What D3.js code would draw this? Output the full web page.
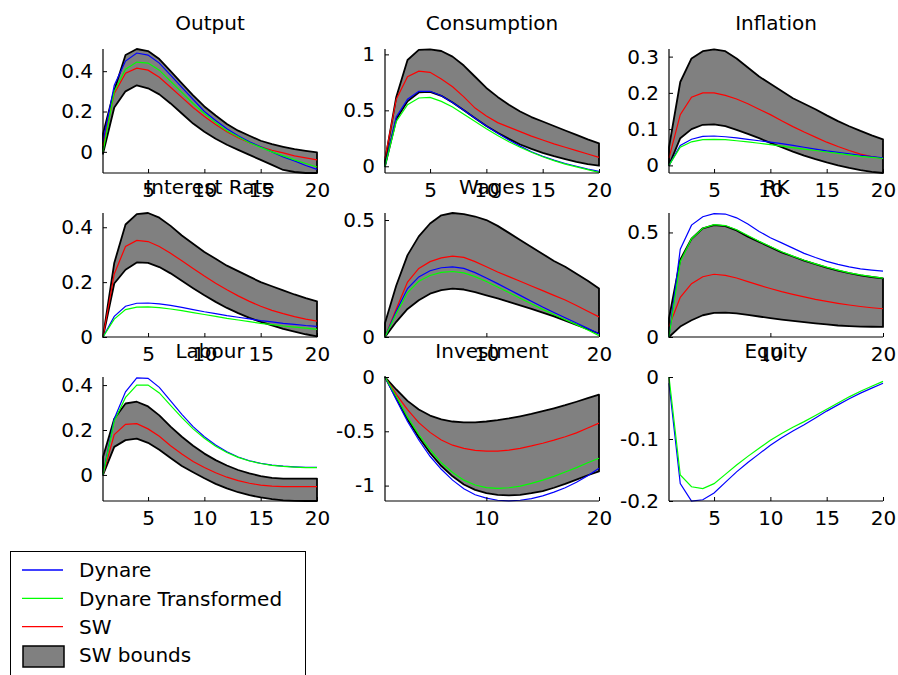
<!DOCTYPE html>
<html>
<head>
<meta charset="utf-8">
<script src="https://cdn.jsdelivr.net/npm/d3@7"></script>
<style>
  body { margin: 0; background: #fff; }
  svg { display: block; }
  text { font-family: "DejaVu Sans", sans-serif; font-size: 20px; fill: #000; }
</style>
</head>
<body>
<svg id="chart" width="898" height="675"></svg>
<script>
// Impulse-response horizon
const periods = d3.range(1, 21);

// Panel order: row by row
const titles = ["Output", "Consumption", "Inflation",
                "Interest Rate", "Wages", "RK",
                "Labour", "Investment", "Equity"];

const xTicks = [
  [5, 10, 15, 20], [5, 10, 15, 20], [5, 10, 15, 20],
  [5, 10, 15, 20], [10, 20], [10, 20],
  [5, 10, 15, 20], [10, 20], [5, 10, 15, 20]
];

const yLimits = [
  [-0.105, 0.51], [-0.06, 1.048], [-0.021, 0.321],
  [0, 0.452], [0, 0.53], [0, 0.593],
  [-0.116, 0.436], [-1.142, 0], [-0.2, 0]
];

const yTicks = [
  [0, 0.2, 0.4], [0, 0.5, 1], [0, 0.1, 0.2, 0.3],
  [0, 0.2, 0.4], [0, 0.5], [0, 0.5],
  [0, 0.2, 0.4], [-1, -0.5, 0], [-0.2, -0.1, 0]
];

// Dynare responses
const dynare = [
  [0.05, 0.33, 0.45, 0.49, 0.48, 0.44, 0.38, 0.32, 0.26, 0.2, 0.155, 0.115, 0.08, 0.05, 0.025, 0.0, -0.025, -0.045, -0.068, -0.087],
  [0.0, 0.44, 0.6, 0.67, 0.67, 0.63, 0.57, 0.5, 0.43, 0.36, 0.295, 0.235, 0.18, 0.13, 0.09, 0.055, 0.025, 0.0, -0.025, -0.045],
  [0.0, 0.055, 0.072, 0.08, 0.081, 0.079, 0.076, 0.072, 0.068, 0.064, 0.06, 0.055, 0.05, 0.045, 0.04, 0.036, 0.032, 0.028, 0.024, 0.021],
  [0.0, 0.075, 0.112, 0.123, 0.124, 0.121, 0.115, 0.108, 0.1, 0.092, 0.085, 0.078, 0.072, 0.066, 0.06, 0.055, 0.05, 0.046, 0.042, 0.039],
  [0.0, 0.11, 0.207, 0.257, 0.283, 0.296, 0.3, 0.293, 0.275, 0.252, 0.228, 0.203, 0.178, 0.153, 0.128, 0.105, 0.082, 0.06, 0.037, 0.014],
  [0.0, 0.42, 0.535, 0.575, 0.59, 0.588, 0.57, 0.54, 0.505, 0.475, 0.45, 0.425, 0.4, 0.38, 0.362, 0.347, 0.335, 0.326, 0.32, 0.315],
  [0.0, 0.25, 0.37, 0.432, 0.43, 0.39, 0.33, 0.27, 0.215, 0.17, 0.133, 0.103, 0.08, 0.063, 0.052, 0.044, 0.039, 0.036, 0.034, 0.034],
  [0.0, -0.21, -0.41, -0.58, -0.73, -0.85, -0.95, -1.03, -1.085, -1.115, -1.135, -1.14, -1.135, -1.12, -1.095, -1.06, -1.02, -0.97, -0.91, -0.84],
  [-0.01, -0.172, -0.2, -0.198, -0.187, -0.17, -0.153, -0.138, -0.124, -0.11, -0.098, -0.087, -0.077, -0.066, -0.055, -0.045, -0.035, -0.026, -0.018, -0.01]
];

// Dynare responses after transformation
const dynareTransformed = [
  [0.0, 0.3, 0.41, 0.445, 0.44, 0.405, 0.35, 0.295, 0.24, 0.19, 0.145, 0.105, 0.075, 0.045, 0.022, 0.0, -0.02, -0.04, -0.058, -0.075],
  [0.0, 0.4, 0.55, 0.61, 0.615, 0.58, 0.53, 0.465, 0.4, 0.335, 0.275, 0.22, 0.17, 0.125, 0.085, 0.05, 0.02, -0.005, -0.03, -0.055],
  [0.0, 0.05, 0.065, 0.071, 0.072, 0.071, 0.068, 0.065, 0.061, 0.057, 0.053, 0.049, 0.045, 0.041, 0.037, 0.033, 0.029, 0.025, 0.022, 0.019],
  [0.0, 0.065, 0.1, 0.109, 0.11, 0.107, 0.102, 0.096, 0.089, 0.082, 0.075, 0.068, 0.062, 0.056, 0.05, 0.045, 0.04, 0.036, 0.032, 0.028],
  [0.0, 0.1, 0.19, 0.238, 0.263, 0.276, 0.28, 0.274, 0.258, 0.237, 0.214, 0.19, 0.166, 0.142, 0.118, 0.096, 0.074, 0.053, 0.03, 0.006],
  [0.0, 0.36, 0.47, 0.52, 0.537, 0.533, 0.513, 0.485, 0.458, 0.433, 0.408, 0.387, 0.367, 0.35, 0.334, 0.32, 0.307, 0.297, 0.289, 0.282],
  [0.0, 0.24, 0.345, 0.4, 0.4, 0.365, 0.31, 0.255, 0.205, 0.163, 0.128, 0.1, 0.078, 0.062, 0.051, 0.043, 0.038, 0.035, 0.033, 0.033],
  [0.0, -0.18, -0.37, -0.53, -0.67, -0.79, -0.88, -0.95, -0.995, -1.018, -1.025, -1.02, -1.005, -0.98, -0.95, -0.915, -0.875, -0.835, -0.79, -0.748],
  [0.0, -0.158, -0.177, -0.18, -0.172, -0.157, -0.142, -0.128, -0.115, -0.102, -0.091, -0.081, -0.072, -0.062, -0.052, -0.042, -0.032, -0.023, -0.015, -0.007]
];

// SW median responses (none for Equity)
const sw = [
  [0.03, 0.29, 0.39, 0.415, 0.405, 0.37, 0.32, 0.27, 0.22, 0.175, 0.135, 0.1, 0.07, 0.045, 0.025, 0.008, -0.005, -0.02, -0.03, -0.04],
  [0.07, 0.6, 0.8, 0.85, 0.84, 0.78, 0.71, 0.62, 0.52, 0.45, 0.39, 0.35, 0.31, 0.27, 0.235, 0.2, 0.17, 0.14, 0.11, 0.08],
  [0.02, 0.14, 0.188, 0.2, 0.2, 0.193, 0.183, 0.17, 0.155, 0.14, 0.123, 0.107, 0.092, 0.078, 0.064, 0.052, 0.041, 0.031, 0.024, 0.019],
  [0.0, 0.23, 0.33, 0.352, 0.348, 0.33, 0.305, 0.278, 0.25, 0.222, 0.196, 0.172, 0.15, 0.13, 0.112, 0.097, 0.085, 0.074, 0.065, 0.058],
  [0.0, 0.12, 0.235, 0.293, 0.322, 0.338, 0.346, 0.34, 0.322, 0.3, 0.278, 0.258, 0.238, 0.218, 0.198, 0.178, 0.158, 0.135, 0.11, 0.086],
  [0.05, 0.19, 0.255, 0.288, 0.3, 0.295, 0.282, 0.265, 0.248, 0.232, 0.217, 0.204, 0.192, 0.18, 0.17, 0.161, 0.153, 0.146, 0.14, 0.135],
  [0.0, 0.18, 0.225, 0.228, 0.205, 0.172, 0.13, 0.093, 0.06, 0.033, 0.01, -0.01, -0.025, -0.037, -0.045, -0.05, -0.052, -0.052, -0.052, -0.052],
  [0.0, -0.16, -0.3, -0.42, -0.51, -0.58, -0.628, -0.658, -0.675, -0.682, -0.682, -0.673, -0.657, -0.635, -0.61, -0.582, -0.55, -0.515, -0.47, -0.425],
  null
];

// SW confidence bands
const swLower = [
  [-0.01, 0.22, 0.3, 0.33, 0.315, 0.285, 0.24, 0.19, 0.14, 0.1, 0.065, 0.035, 0.01, -0.015, -0.04, -0.065, -0.09, -0.1, -0.105, -0.105],
  [0.0, 0.42, 0.58, 0.66, 0.665, 0.63, 0.57, 0.5, 0.43, 0.36, 0.3, 0.245, 0.195, 0.155, 0.12, 0.09, 0.065, 0.04, 0.02, 0.005],
  [0.0, 0.075, 0.1, 0.112, 0.113, 0.108, 0.098, 0.087, 0.075, 0.062, 0.05, 0.038, 0.027, 0.017, 0.008, 0.0, -0.007, -0.013, -0.018, -0.021],
  [0.0, 0.195, 0.245, 0.272, 0.27, 0.255, 0.232, 0.205, 0.178, 0.152, 0.128, 0.106, 0.087, 0.07, 0.055, 0.042, 0.03, 0.02, 0.01, 0.002],
  [0.0, 0.065, 0.12, 0.157, 0.185, 0.2, 0.207, 0.203, 0.192, 0.178, 0.165, 0.15, 0.135, 0.12, 0.104, 0.088, 0.07, 0.052, 0.033, 0.014],
  [0.0, 0.05, 0.08, 0.104, 0.115, 0.117, 0.113, 0.106, 0.098, 0.09, 0.083, 0.077, 0.071, 0.065, 0.06, 0.055, 0.052, 0.05, 0.049, 0.048],
  [0.0, 0.125, 0.155, 0.162, 0.143, 0.112, 0.075, 0.04, 0.012, -0.015, -0.04, -0.06, -0.077, -0.09, -0.1, -0.108, -0.113, -0.115, -0.116, -0.116],
  [0.0, -0.195, -0.39, -0.555, -0.7, -0.82, -0.915, -0.99, -1.04, -1.07, -1.085, -1.09, -1.085, -1.07, -1.05, -1.02, -0.985, -0.945, -0.905, -0.87],
  null
];
const swUpper = [
  [0.09, 0.305, 0.48, 0.51, 0.5, 0.46, 0.4, 0.34, 0.28, 0.225, 0.18, 0.138, 0.105, 0.08, 0.055, 0.038, 0.025, 0.013, 0.005, -0.003],
  [0.05, 0.62, 0.95, 1.04, 1.045, 1.03, 0.98, 0.9, 0.8, 0.7, 0.62, 0.55, 0.49, 0.44, 0.4, 0.36, 0.32, 0.28, 0.24, 0.205],
  [0.05, 0.23, 0.295, 0.315, 0.32, 0.315, 0.295, 0.27, 0.245, 0.225, 0.205, 0.185, 0.17, 0.155, 0.138, 0.122, 0.108, 0.095, 0.083, 0.072],
  [0.0, 0.27, 0.41, 0.448, 0.452, 0.435, 0.405, 0.37, 0.34, 0.31, 0.285, 0.26, 0.24, 0.22, 0.2, 0.185, 0.17, 0.155, 0.142, 0.13],
  [0.06, 0.22, 0.35, 0.43, 0.485, 0.52, 0.53, 0.525, 0.515, 0.5, 0.475, 0.445, 0.415, 0.385, 0.355, 0.325, 0.3, 0.27, 0.24, 0.207],
  [0.09, 0.37, 0.47, 0.52, 0.535, 0.53, 0.51, 0.48, 0.455, 0.43, 0.405, 0.385, 0.365, 0.348, 0.332, 0.318, 0.305, 0.295, 0.287, 0.28],
  [0.08, 0.25, 0.318, 0.326, 0.305, 0.265, 0.215, 0.17, 0.13, 0.095, 0.066, 0.042, 0.022, 0.007, -0.005, -0.013, -0.016, -0.016, -0.016, -0.016],
  [0.0, -0.115, -0.22, -0.3, -0.355, -0.39, -0.41, -0.418, -0.418, -0.41, -0.398, -0.382, -0.362, -0.34, -0.315, -0.288, -0.26, -0.228, -0.195, -0.163],
  null
];

const legendItems = ["Dynare", "Dynare Transformed", "SW", "SW bounds"];

// ---- layout ----
const colLeft = [103, 385, 669];
const rowTop = [49, 213, 377];
const panelW = 214, panelH = 124;
const colors = { dynare: "#0000ff", transformed: "#00ff00", sw: "#ff0000", band: "#808080" };

const svg = d3.select("#chart");
const defs = svg.append("defs");

titles.forEach((title, i) => {
  const col = i % 3, row = Math.floor(i / 3);
  const x0 = colLeft[col], y0 = rowTop[row];
  const x = d3.scaleLinear().domain([1, 20]).range([x0, x0 + panelW]);
  const y = d3.scaleLinear().domain(yLimits[i]).range([y0 + panelH, y0]);

  defs.append("clipPath").attr("id", "clip" + i)
    .append("rect").attr("x", x0 - 1).attr("y", y0 - 1)
    .attr("width", panelW + 2).attr("height", panelH + 2);

  const g = svg.append("g");
  const plot = g.append("g").attr("clip-path", `url(#clip${i})`);

  if (swLower[i]) {
    const band = periods.map((p, k) => ({ p, lo: swLower[i][k], hi: swUpper[i][k] }));
    const area = d3.area().x(d => x(d.p)).y0(d => y(d.lo)).y1(d => y(d.hi));
    plot.append("path").datum(band).attr("d", area)
      .attr("fill", colors.band).attr("stroke", "#000")
      .attr("stroke-width", 1.8).attr("stroke-linejoin", "round");
  }

  const line = d3.line().x((d, k) => x(periods[k])).y(d => y(d));
  if (sw[i]) {
    plot.append("path").datum(sw[i]).attr("d", line)
      .attr("fill", "none").attr("stroke", colors.sw).attr("stroke-width", 1.2);
  }
  plot.append("path").datum(dynare[i]).attr("d", line)
    .attr("fill", "none").attr("stroke", colors.dynare).attr("stroke-width", 1.2);
  plot.append("path").datum(dynareTransformed[i]).attr("d", line)
    .attr("fill", "none").attr("stroke", colors.transformed).attr("stroke-width", 1.2);

  // axes (left and bottom only, ticks pointing inward)
  const xAxis = d3.axisBottom(x).tickValues(xTicks[i]).tickSize(-4).tickPadding(10).tickFormat(d3.format("d"));
  const yAxis = d3.axisLeft(y).tickValues(yTicks[i]).tickSize(-4).tickPadding(10).tickFormat(d => String(d));

  const gx = g.append("g").attr("transform", `translate(0,${y0 + panelH})`).call(xAxis);
  const gy = g.append("g").attr("transform", `translate(${x0},0)`).call(yAxis);
  [gx, gy].forEach(a => {
    a.select(".domain").attr("stroke", "#000").attr("stroke-width", 1.2);
    a.selectAll(".tick line").attr("stroke", "#000");
    a.selectAll("text").attr("font-family", "DejaVu Sans, sans-serif")
      .attr("font-size", 20).attr("fill", "#000");
  });
  // plain L-shaped axis lines
  gx.select(".domain").attr("d", `M${x0},0H${x0 + panelW}`);
  gy.select(".domain").attr("d", `M0,${y0}V${y0 + panelH}`);

  g.append("text").attr("x", x0 + panelW / 2).attr("y", y0 - 19)
    .attr("text-anchor", "middle").text(title);
});

// ---- legend ----
const lg = svg.append("g");
lg.append("rect").attr("x", 10.5).attr("y", 551.5).attr("width", 295).attr("height", 140)
  .attr("fill", "#fff").attr("stroke", "#000").attr("stroke-width", 1);
const legendY = d3.scalePoint().domain(legendItems).range([570, 655]);
const legendColor = [colors.dynare, colors.transformed, colors.sw];
legendItems.forEach((name, k) => {
  const cy = legendY(name);
  if (k < 3) {
    lg.append("line").attr("x1", 22).attr("x2", 63).attr("y1", cy).attr("y2", cy)
      .attr("stroke", legendColor[k]).attr("stroke-width", 1.3);
  } else {
    lg.append("rect").attr("x", 23).attr("y", cy - 9).attr("width", 41).attr("height", 21)
      .attr("fill", colors.band).attr("stroke", "#000").attr("stroke-width", 1.5);
  }
  lg.append("text").attr("x", 79).attr("y", cy).attr("dy", "0.36em").text(name);
});
</script>
</body>
</html>
